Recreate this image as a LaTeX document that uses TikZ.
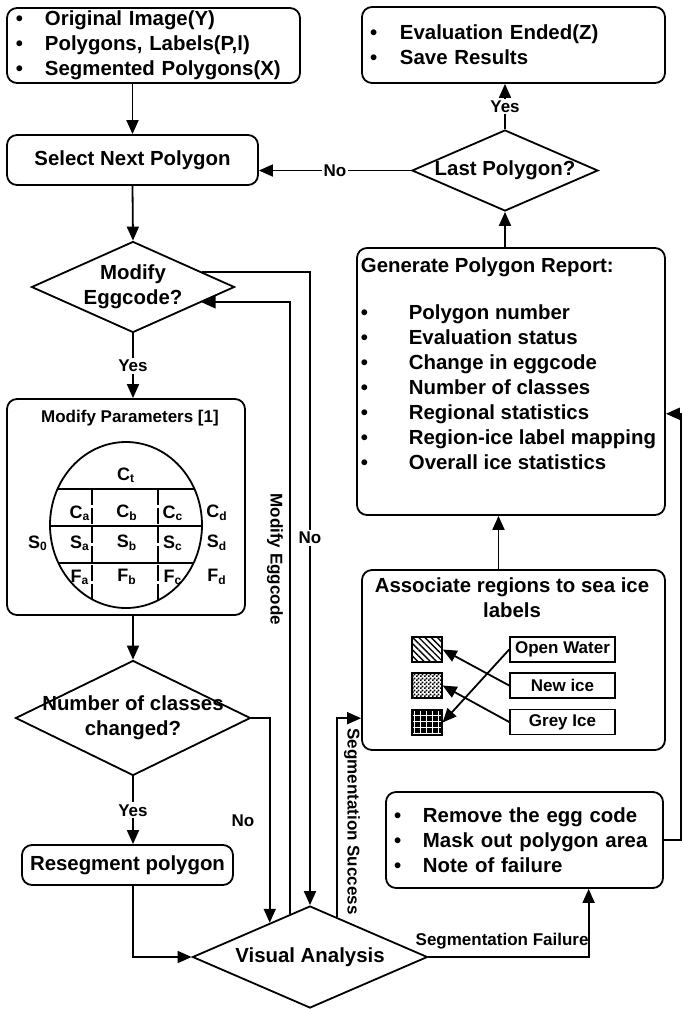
\documentclass[tikz,border=0pt]{standalone}
\usepackage{fontspec}
\setmainfont{Liberation Sans}
\usetikzlibrary{shapes.geometric, arrows.meta, calc, patterns, patterns.meta}

\newcommand{\bitem}[2][14.5pt]{\makebox[#1][l]{\textbullet}#2}

\pgfdeclarepatternformonly{finechecker}{\pgfpointorigin}{\pgfqpoint{2pt}{2pt}}{\pgfqpoint{2pt}{2pt}}
{
  \pgfpathrectangle{\pgfpointorigin}{\pgfqpoint{1pt}{1pt}}
  \pgfpathrectangle{\pgfqpoint{1pt}{1pt}}{\pgfqpoint{1pt}{1pt}}
  \pgfusepath{fill}
}

\begin{document}
\begin{tikzpicture}[
    x=0.5pt, y=-0.5pt,
    line width=0.9pt,
    every node/.style={font=\fontsize{10.2}{12.5}\selectfont\bfseries},
    box/.style={draw, rectangle, rounded corners=5pt, inner sep=0pt, line width=0.9pt},
    dec/.style={draw, diamond, inner sep=-5pt, line width=0.9pt},
    lbl/.style={font=\fontsize{8.5}{10}\selectfont\bfseries},
    note/.style={lbl, fill=white, inner sep=1pt},
    lab/.style={draw, rectangle, lbl, minimum width=52.5pt, minimum height=12.5pt, inner sep=0pt, line width=0.8pt},
    swatch/.style={draw, minimum width=15pt, minimum height=12.5pt, inner sep=0pt, line width=0.6pt},
    egg/.style={font=\fontsize{9}{10}\selectfont\bfseries, inner sep=0.5pt},
    arrow/.style={-{Triangle[length=7pt, width=6pt]}, line width=0.9pt}
]
\useasboundingbox (0,0) rectangle (682,1009);

% Nodes
\node (inp) [box, minimum width=146.5pt, minimum height=37.5pt, text width=137.5pt, align=left, inner xsep=4.5pt] at (153.5,45.5)
    {\bitem{Original Image(Y)}\\\bitem{Polygons, Labels(P,l)}\\\bitem{Segmented Polygons(X)}};
\node (sel) [box, minimum width=125.5pt, minimum height=25pt] at (132.5,160) {Select Next Polygon};
\node (endb) [box, minimum width=151.5pt, minimum height=38pt, text width=143.5pt, align=left, inner xsep=4pt] at (513.5,45)
    {\bitem[15pt]{Evaluation Ended(Z)}\\\bitem[15pt]{Save Results}};
\node (lastp) [dec, shape aspect=2.3, minimum width=93pt, minimum height=40.5pt] at (505,170.5) {Last Polygon?};
\node (me) [dec, shape aspect=2.23, minimum width=101.5pt, minimum height=45.5pt, align=center] at (133,287) {Modify\\Eggcode?};

\node (par) [box, minimum width=119pt, minimum height=108pt] at (126,507) {};
\node (part) [lbl] at (130,418) {Modify Parameters [1]};

\node (rep) [box, minimum width=154pt, minimum height=133.5pt] at (511,381.5) {};
\node (rept) [anchor=north west, align=left, inner sep=0pt] at (360,257)
    {Generate Polygon Report:\\[11pt]
     \bitem[24pt]{Polygon number}\\
     \bitem[24pt]{Evaluation status}\\
     \bitem[24pt]{Change in eggcode}\\
     \bitem[24pt]{Number of classes}\\
     \bitem[24pt]{Regional statistics}\\
     \bitem[24pt]{Region-ice label mapping}\\
     \bitem[24pt]{Overall ice statistics}};

\node (nc) [dec, shape aspect=2.04, minimum width=117.5pt, minimum height=57.5pt, align=center] at (133,718) {Number of classes\\changed?};
\node (reseg) [box, minimum width=105.5pt, minimum height=20pt] at (127.5,865) {Resegment polygon};

\node (assoc) [box, minimum width=151.5pt, minimum height=90pt] at (513.5,660) {};
\node (assoct) [align=center, inner sep=0pt] at (512,598) {Associate regions to sea ice\\labels};
\node (sq1) [swatch, pattern={Lines[angle=-45, distance=2.2pt, line width=0.7pt]}] at (427,649.5) {};
\node (sq2) [swatch, pattern=finechecker] at (427,685.5) {};
\node (sq3) [swatch, preaction={fill=black}, pattern=grid, pattern color=white] at (427,722.5) {};
\node (ow) [lab] at (562.5,649.5) {Open Water};
\node (ni) [lab] at (562.5,685.5) {New ice};
\node (gi) [lab] at (562.5,722) {Grey Ice};

\node (fail) [box, minimum width=138.5pt, minimum height=48pt, text width=130.5pt, align=left, inner xsep=4pt] at (524.5,840)
    {\bitem{Remove the egg code}\\\bitem{Mask out polygon area}\\\bitem{Note of failure}};
\node (va) [dec, shape aspect=2.26, minimum width=117.5pt, minimum height=51pt] at (310,957) {Visual Analysis};
\coordinate (rt) at (681,0);

% Egg code
\begin{scope}
    \clip (126,525) ellipse [x radius=38pt, y radius=41.5pt];
    \draw (40,489) -- (210,489);
    \draw (40,526) -- (210,526);
    \draw (40,563) -- (210,563);
    \draw [dash pattern=on 8pt off 1.5pt] (92,489) -- (92,615);
    \draw [dash pattern=on 8pt off 1.5pt] (158,489) -- (158,615);
\end{scope}
\draw (126,525) ellipse [x radius=38pt, y radius=41.5pt];
\node (ct) [egg] at (126,475) {C\textsubscript{t}};
\node (s0) [egg] at (38,543) {S\textsubscript{0}};
\foreach \row/\yy in {C/513, S/543, F/577}
    \foreach \col/\xx in {a/80, b/127, c/173, d/217}
        \node (\row\col) [egg] at (\xx,\yy) {\row\textsubscript{\col}};

% Arrows
\draw [arrow] (inp.south -| sel.north) -- (sel.north);
\draw [arrow] (sel.south) -- (me.north);
\draw [arrow] (me.south) -- node[note] {Yes} (me.south |- par.north);
\draw [arrow] (par.south -| nc.north) -- (nc.north);
\draw [arrow] (nc.south) -- node[note] {Yes} (nc.south |- reseg.north);
\draw [arrow] (nc.south |- reseg.south) |- (va.west);
\draw [arrow] (nc.east) -| node[pos=0.75, left=4pt, lbl] {No} ($(va.north)!0.34!(va.west)$);
\draw [arrow] ($(me.east)!0.33!(me.north)$) -| node[pos=0.71, note] {No} (va.north);
\draw [arrow] ($(va.north)!0.17!(va.west)$) |- node[pos=0.29, lbl, rotate=-90, anchor=north, inner sep=3pt] {Modify Eggcode} ($(me.east)!0.33!(me.south)$);
\draw [arrow] ($(va.north)!0.23!(va.east)$) |- node[pos=0.24, lbl, rotate=-90, anchor=south, inner sep=3pt] {Segmentation Success} ($(assoc.south west)!0.18!(assoc.north west)$);
\draw [arrow] (va.east) -| node[pos=0.23, above, lbl] {Segmentation Failure} ($(fail.south west)!0.73!(fail.south east)$);
\draw [arrow] (fail.east) -- (fail.east -| rt) |- ($(rep.north east)!0.62!(rep.south east)$);
\draw [arrow] ([xshift=-7.5pt]assoc.north) -- ([xshift=-7.5pt]assoc.north |- rep.south);
\draw [arrow] (rep.north -| lastp.south) -- (lastp.south);
\draw [arrow] (lastp.north) -- node[note] {Yes} (lastp.north |- endb.south);
\draw [arrow] (lastp.west) -- node[note] {No} (lastp.west -| sel.east);
\draw [arrow] (ni.west) -- (sq1.east);
\draw [arrow] (gi.west) -- (sq2.east);
\draw [arrow] (ow.west) -- (sq3.east);

\end{tikzpicture}
\end{document}
